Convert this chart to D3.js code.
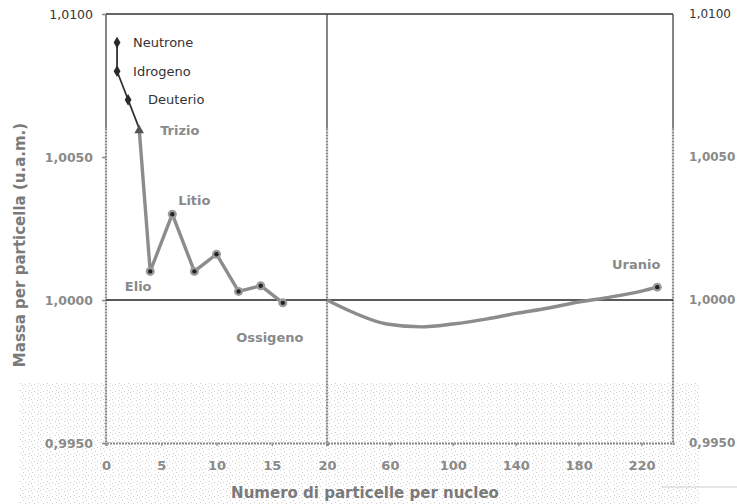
<!DOCTYPE html>
<html>
<head>
<meta charset="utf-8">
<script src="https://cdn.jsdelivr.net/npm/d3@7"></script>
<style>
  body { margin: 0; background: #fff; }
  svg { display: block; font-family: "DejaVu Sans", "Liberation Sans", sans-serif; }
</style>
</head>
<body>
<svg id="chart" width="737" height="504"></svg>
<script>
// particles per nucleus (left panel 0-20)
const leftA = [1, 1, 2, 3, 4, 6, 8, 10, 12, 14, 16];
const leftMass = [1.0090, 1.0080, 1.0070, 1.0060, 1.0010, 1.0030, 1.0010, 1.0016, 1.0003, 1.0005, 0.9999];
// right panel 20-240
const rightA = [20, 36, 58, 80, 100, 122, 140, 160, 180, 200, 220, 230];
const rightMass = [1.0000, 0.99958, 0.99916, 0.99906, 0.99916, 0.99934, 0.99953, 0.99971, 0.99993, 1.0001, 1.00031, 1.00045];

const yTicks = [0.995, 1.000, 1.005, 1.010];
const xTicksLeft = [0, 5, 10, 15, 20];
const xTicksRight = [60, 100, 140, 180, 220];

const labels = [
  { text: "Neutrone", a: 1, m: 1.0090, dx: 16, dy: 0, anchor: "start", dark: true },
  { text: "Idrogeno", a: 1, m: 1.0080, dx: 16, dy: 0, anchor: "start", dark: true },
  { text: "Deuterio", a: 2, m: 1.0070, dx: 20, dy: 0, anchor: "start", dark: true },
  { text: "Trizio", a: 3, m: 1.0060, dx: 21, dy: 2, anchor: "start" },
  { text: "Litio", a: 6, m: 1.0030, dx: 22, dy: -14, anchor: "middle" },
  { text: "Elio", a: 4, m: 1.0010, dx: -12, dy: 15, anchor: "middle" },
  { text: "Ossigeno", a: 16, m: 0.9999, dx: -13, dy: 35, anchor: "middle" }
];

const svg = d3.select("#chart");

const xL = d3.scaleLinear().domain([0, 20]).range([106, 327]);
const xR = d3.scaleLinear().domain([20, 240]).range([327, 673]);
const y = d3.scaleLinear().domain([0.995, 1.010]).range([443, 14]);
const fmt = v => d3.format(".4f")(v).replace(".", ",");

// scanned stipple at the bottom
const defs = svg.append("defs");
const pat = defs.append("pattern").attr("id", "stip")
  .attr("width", 9).attr("height", 7).attr("patternUnits", "userSpaceOnUse");
[[1, 1], [5, 3], [2, 5], [7, 6], [4, 0]].forEach(p => {
  pat.append("rect").attr("x", p[0]).attr("y", p[1]).attr("width", 1).attr("height", 1).attr("fill", "#cdcdcd");
});
svg.append("rect").attr("x", 20).attr("y", 382).attr("width", 680).attr("height", 122).attr("fill", "url(#stip)");

// frame top
svg.append("line").attr("x1", xL(0)).attr("x2", xR(240)).attr("y1", y(1.01)).attr("y2", y(1.01))
  .attr("stroke", "#333").attr("stroke-width", 1.5);

// vertical axes: dark upper part, grey dotted lower part
[xL(0), xL(20), xR(240)].forEach(x => {
  svg.append("line").attr("x1", x).attr("x2", x).attr("y1", y(1.01)).attr("y2", y(1.006))
    .attr("stroke", "#444").attr("stroke-width", 1.3);
  svg.append("line").attr("x1", x).attr("x2", x).attr("y1", y(1.006)).attr("y2", y(0.995))
    .attr("stroke", "#888").attr("stroke-width", 2.2).attr("stroke-dasharray", "2,1");
});

// bottom axis
const gL = svg.append("g").attr("transform", `translate(0,${y(0.995)})`)
  .call(d3.axisBottom(xL).tickValues(xTicksLeft).tickSize(3).tickPadding(15));
const gR = svg.append("g").attr("transform", `translate(0,${y(0.995)})`)
  .call(d3.axisBottom(xR).tickValues(xTicksRight).tickSize(3).tickPadding(15));
[gL, gR].forEach(g => {
  g.select(".domain").attr("stroke", "#888").attr("stroke-width", 2.2).attr("stroke-dasharray", "2,1");
  g.selectAll(".tick line").attr("stroke", "#999").attr("stroke-width", 1.5);
  g.selectAll("text").attr("fill", "#8a8a8a").attr("font-size", 13).attr("font-weight", "bold")
    .attr("font-family", "DejaVu Sans");
});

// y axes, both sides
const yA = svg.append("g").attr("transform", `translate(${xL(0)},0)`)
  .call(d3.axisLeft(y).tickValues(yTicks).tickFormat(fmt).tickSize(4).tickPadding(9));
const yB = svg.append("g").attr("transform", `translate(${xR(240)},0)`)
  .call(d3.axisRight(y).tickValues(yTicks).tickFormat(fmt).tickSize(0).tickPadding(16));
[yA, yB].forEach(g => {
  g.select(".domain").remove();
  g.selectAll(".tick line").attr("stroke", "#888").attr("stroke-width", 1.5);
  g.selectAll("text").attr("font-size", 12).attr("font-family", "DejaVu Sans")
    .attr("font-weight", d => d === 1.01 ? "normal" : "bold")
    .attr("fill", d => d === 1.01 ? "#333" : "#8a8a8a");
});
yA.selectAll("text").attr("font-size", 12.5);

// reference line at 1,0000
svg.append("line").attr("x1", xL(0)).attr("x2", xR(240)).attr("y1", y(1)).attr("y2", y(1))
  .attr("stroke", "#222").attr("stroke-width", 1.6);

// series
const ptsL = leftA.map((a, i) => [xL(a), y(leftMass[i])]);
const ptsR = rightA.map((a, i) => [xR(a), y(rightMass[i])]);

svg.append("path").attr("d", d3.line()(ptsL.slice(3)))
  .attr("fill", "none").attr("stroke", "#8c8c8c").attr("stroke-width", 3.4).attr("stroke-linejoin", "round");
svg.append("path").attr("d", d3.line()(ptsL.slice(0, 4)))
  .attr("fill", "none").attr("stroke", "#333").attr("stroke-width", 1.8);
svg.append("path").attr("d", d3.line().curve(d3.curveMonotoneX)(ptsR))
  .attr("fill", "none").attr("stroke", "#8c8c8c").attr("stroke-width", 3.4);

// markers
const diamond = d3.symbol().type(d3.symbolDiamond).size(40);
ptsL.slice(0, 3).forEach(p => {
  svg.append("path").attr("d", diamond).attr("transform", `translate(${p[0]},${p[1]})`).attr("fill", "#2a2a2a");
});
svg.append("path").attr("d", d3.symbol().type(d3.symbolTriangle).size(40))
  .attr("transform", `translate(${ptsL[3][0]},${ptsL[3][1] + 2})`).attr("fill", "#555");
ptsL.slice(4).concat([ptsR[ptsR.length - 1]]).forEach(p => {
  svg.append("circle").attr("cx", p[0]).attr("cy", p[1]).attr("r", 4.5).attr("fill", "#9a9a9a");
  svg.append("circle").attr("cx", p[0]).attr("cy", p[1]).attr("r", 2.2).attr("fill", "#222");
});

// point labels
labels.forEach(l => {
  svg.append("text").attr("x", xL(l.a) + l.dx).attr("y", y(l.m) + l.dy)
    .attr("dy", "0.35em").attr("text-anchor", l.anchor)
    .attr("font-size", 13).attr("font-weight", l.dark ? "normal" : "bold")
    .attr("fill", l.dark ? "#333" : "#8a8a8a").text(l.text);
});
svg.append("text").attr("x", xR(230) - 21).attr("y", y(1.00045) - 23).attr("dy", "0.35em")
  .attr("text-anchor", "middle").attr("font-size", 13).attr("font-weight", "bold")
  .attr("fill", "#8a8a8a").text("Uranio");

// axis titles
svg.append("text").attr("transform", "translate(20,245) rotate(-90)")
  .attr("text-anchor", "middle").attr("dy", "0.35em")
  .attr("font-size", 15).attr("font-weight", "bold").attr("fill", "#7a7a7a")
  .text("Massa per particella (u.a.m.)");
svg.append("text").attr("x", 365).attr("y", 493).attr("dy", "0.35em")
  .attr("text-anchor", "middle").attr("font-size", 15).attr("font-weight", "bold").attr("fill", "#7a7a7a")
  .text("Numero di particelle per nucleo");

svg.append("line").attr("x1", 662).attr("x2", 737).attr("y1", 487).attr("y2", 487)
  .attr("stroke", "#ccc").attr("stroke-width", 1);
</script>
</body>
</html>
